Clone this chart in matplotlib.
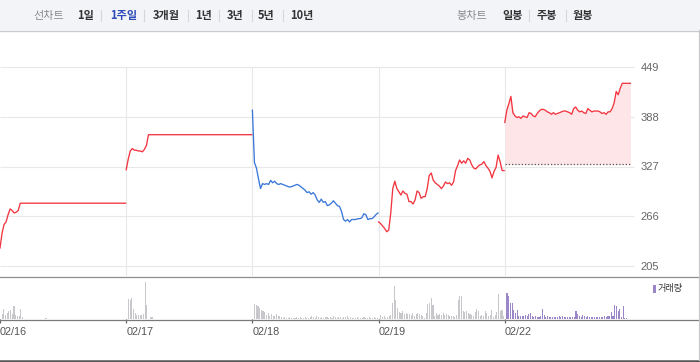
import matplotlib
matplotlib.use("Agg")
import matplotlib.pyplot as plt
from matplotlib.lines import Line2D
from matplotlib.patches import Rectangle

# ---------------- data ----------------
day_labels = ["02/16", "02/17", "02/18", "02/19", "02/22"]
price_ticks = [449, 388, 327, 266, 205]
prev_close = 329.6

price_0216 = [227, 245, 256, 259, 268, 275, 273, 270, 271, 273, 282] + [282] * 52
price_0217 = [323, 336, 346, 349, 347, 347, 346, 346, 345, 348, 353, 366] + [366] * 51
price_0218 = [396, 332, 325, 312, 300, 306, 305, 306, 305, 310, 307, 309, 306, 305, 306, 305,
              304, 303, 302, 302, 303, 304, 305, 304, 302, 300, 298, 295, 296, 293, 295, 292,
              286, 283, 287, 283, 284, 279, 280, 282, 285, 282, 279, 278, 272, 262, 260, 262,
              259, 262, 262, 262, 263, 263, 264, 269, 268, 262, 263, 263, 265, 268, 270]
price_0219 = [259, 257, 254, 251, 247, 249, 270, 300, 309, 300, 296, 292, 297, 294, 293, 284,
              284, 281, 286, 297, 295, 288, 290, 290, 300, 316, 319, 310, 307, 305, 303, 300,
              303, 308, 306, 307, 304, 308, 322, 328, 335, 331, 334, 331, 337, 335, 329, 325,
              324, 327, 329, 330, 333, 328, 325, 321, 313, 321, 326, 341, 333, 322, 322]
price_0222 = [381, 396, 404, 413, 393, 389, 387, 388, 386, 389, 388, 387, 393, 392, 389, 388,
              392, 395, 397, 397, 396, 394, 393, 391, 393, 391, 392, 393, 394, 395, 395, 394,
              393, 391, 398, 400, 396, 394, 395, 393, 392, 398, 396, 394, 395, 395, 395, 394,
              392, 393, 391, 394, 394, 398, 405, 419, 415, 423, 429, 429, 429, 429, 429]
prices = [price_0216, price_0217, price_0218, price_0219, price_0222]
price_colors = ["#f2353f", "#f2353f", "#3a78d9", "#f2353f", "#f2353f"]

vol_0216 = [0, 5, 10, 4, 6, 8, 9, 5, 13, 4, 3, 3, 10, 2] + [0] * 13 + [1] + [0] * 47
vol_0217 = [0, 20, 19, 21, 10, 6, 4, 4, 4, 4, 5, 37, 14, 0, 2, 2] + [0] * 59
vol_0218 = [0, 14.7, 14.3, 13.3, 11, 8.7, 7.7, 6.7, 4.3, 6, 3.3, 5.3, 2.7, 3.3, 5.3, 2.7, 3.3, 2,
            1, 2, 1, 1, 2, 1, 1, 1, 2, 1, 2, 1, 1, 2, 1, 1, 2, 3, 2, 1,
            3, 2, 1, 2, 1, 2, 2, 1, 2, 1, 3, 2, 1, 2, 2, 1, 2, 2, 3, 1,
            2, 1, 1, 1, 2, 1, 1, 1, 2, 1, 1, 2, 1, 1, 2, 1, 1]
vol_0219 = [0, 3.7, 1.7, 2.7, 1, 1.7, 3.3, 4.3, 16, 32.7, 19.3,
            11, 6.7, 6, 7.7, 5, 6, 5.3, 5, 4.3, 6,
            2.7, 5.3, 6, 5, 4.3, 2.7, 1, 6, 15.3, 16,
            20.7, 14.3, 2.7, 6, 4.3, 5.3, 4.3, 6, 4.3, 5.3,
            4.3, 2.7, 2.7, 3.3, 2, 4.3, 19.3, 23.3, 22.7, 7.7,
            6.7, 7.7, 6, 5.3, 4.3, 3.3, 6.7, 10, 7.7, 2.7,
            4.3, 3.3, 7.7, 6, 2.7, 4.3, 9.3, 2, 4.3, 6.7,
            25.3, 7.7, 9.3, 3.3]
vol_0222 = [0, 26, 23.3, 16, 16, 9.3, 6, 8.7, 3.3, 2.7, 3.3, 2.7, 4.3, 2.7, 5.3, 6, 2.7, 2,
            2.7, 1.7, 2, 2.7, 10, 4.3, 2, 3.3, 1.7, 1.7, 2, 1.7, 1.7, 2, 2.7, 2.3, 2.7,
            1.7, 2, 1.7, 2, 1.7, 2, 2, 7.7, 5.3, 2.7, 2, 4.3, 2.7, 2, 3.3, 2, 1.7, 2,
            1.7, 2, 1.7, 2, 1.7, 1.7, 2.7, 2, 2.7, 3.3, 6.7, 2.7, 14.3, 12.7, 7.7, 10,
            2, 13.3, 1, 1, 0, 0]
volumes = [vol_0216, vol_0217, vol_0218, vol_0219, vol_0222]
vol_colors = ["#c8c8cc", "#c8c8cc", "#c8c8cc", "#c8c8cc", "#9a86c8"]

# ---------------- layout ----------------
W, H = 700, 362
fig = plt.figure(figsize=(W / 100, H / 100), dpi=100)
fig.patch.set_facecolor("white")

def fx(px):
    return px / W

def fy(py):
    return 1 - py / H

KR = ["Noto Sans CJK KR", "DejaVu Sans"]
plot_right = 631

# header band
fig.add_artist(Rectangle((0, fy(30)), 1, 30 / H, transform=fig.transFigure,
                         facecolor="#f3f4f8", edgecolor="none", zorder=0))
fig.add_artist(Line2D([0, 1], [fy(30.5), fy(30.5)], transform=fig.transFigure,
                      color="#c9c9cd", lw=1.0))

header_items = [
    ("선차트", 33, "#8a8a8a", "normal"),
    ("1일", 77, "#333333", "bold"),
    ("1주일", 110, "#2d4bb8", "bold"),
    ("3개월", 153, "#333333", "bold"),
    ("1년", 195, "#333333", "bold"),
    ("3년", 227, "#333333", "bold"),
    ("5년", 258, "#333333", "bold"),
    ("10년", 290, "#333333", "bold"),
    ("봉차트", 456, "#8a8a8a", "normal"),
    ("일봉", 502, "#333333", "bold"),
    ("주봉", 537, "#333333", "bold"),
    ("월봉", 573, "#333333", "bold"),
]
for txt, x, c, w in header_items:
    fig.text(fx(x), fy(15.5), txt, family=KR, fontsize=8, color=c, fontweight=w,
             ha="left", va="center")
for sx in [101, 144, 188, 219, 252, 283, 529, 566]:
    fig.add_artist(Line2D([fx(sx), fx(sx)], [fy(10), fy(21)], transform=fig.transFigure,
                          color="#d6d6d6", lw=0.8))

# ---------------- price panel ----------------
ppu = (266 - 67) / (max(price_ticks) - min(price_ticks))
ylo = min(price_ticks) - (276 - 266) / ppu
yhi = max(price_ticks) + (67 - 30) / ppu

ax = fig.add_axes([0, fy(276), fx(plot_right), (276 - 30) / H])
ax.set_xlim(0, len(day_labels))
ax.set_ylim(ylo, yhi)
for s in ax.spines.values():
    s.set_visible(False)
ax.set_xticks([])
ax.yaxis.tick_right()
ax.set_yticks(price_ticks)
ax.set_yticklabels([str(v) for v in price_ticks])
ax.tick_params(axis="y", length=0, pad=7, labelsize=8, labelcolor="#666666")
for lab in ax.get_yticklabels():
    lab.set_family(["Liberation Sans", "DejaVu Sans"])

ax.hlines(price_ticks, 0, len(day_labels) * 1.004, color="#e8e8e8", lw=0.8, zorder=1,
          clip_on=False)
ax.vlines(range(1, len(day_labels)), ylo, max(price_ticks), color="#e8e8e8", lw=0.8, zorder=1)

for d, (vals, col) in enumerate(zip(prices, price_colors)):
    n = len(vals)
    xs = [d + i / (n - 1) * 0.995 for i in range(n)]
    if d == len(prices) - 1:
        ax.fill_between(xs, prev_close, vals, color="#fde5e8", lw=0, zorder=2)
        ax.hlines(prev_close, xs[0], xs[-1], color="#555555", lw=0.9,
                  linestyles=(0, (1, 1.6)), zorder=3)
    ax.plot(xs, vals, color=col, lw=0.95, zorder=4, solid_joinstyle="round")

# ---------------- volume panel ----------------
axv = fig.add_axes([0, fy(319), fx(plot_right), (319 - 277) / H])
axv.set_xlim(0, len(day_labels))
axv.set_ylim(0, 42)
for s in axv.spines.values():
    s.set_visible(False)
axv.set_yticks([])
for d, (vals, col) in enumerate(zip(volumes, vol_colors)):
    n = len(vals)
    xs = [d + i / n for i in range(n)]
    axv.bar(xs, vals, width=0.0085, color=col, lw=0, align="edge")

axv.set_xticks(range(len(day_labels)))
axv.set_xticklabels(day_labels)
axv.tick_params(axis="x", length=3.2, width=0.9, color="#666666", pad=2.5,
                labelsize=7.8, labelcolor="#555555", direction="out")
for lab in axv.get_xticklabels():
    lab.set_ha("left")
    lab.set_family(["Liberation Sans", "DejaVu Sans"])

# legend
fig.add_artist(Rectangle((fx(653), fy(293)), 3 / W, 8 / H, transform=fig.transFigure,
                         facecolor="#9a86c8", edgecolor="none"))
fig.text(fx(658), fy(289), "거래량", family=KR, fontsize=6.6, color="#333333",
         ha="left", va="center")

# frame lines
fig.add_artist(Line2D([0, 1], [fy(276.5), fy(276.5)], transform=fig.transFigure,
                      color="#8e8e8e", lw=0.9))
fig.add_artist(Line2D([0, 1], [fy(319.5), fy(319.5)], transform=fig.transFigure,
                      color="#7a7a7a", lw=0.9))
fig.add_artist(Line2D([0, 1], [fy(360.5), fy(360.5)], transform=fig.transFigure,
                      color="#555555", lw=1.8))
fig.add_artist(Line2D([fx(699), fx(699)], [fy(30), fy(360)], transform=fig.transFigure,
                      color="#c9c9cd", lw=0.9))

fig.savefig("out.png", dpi=100)
